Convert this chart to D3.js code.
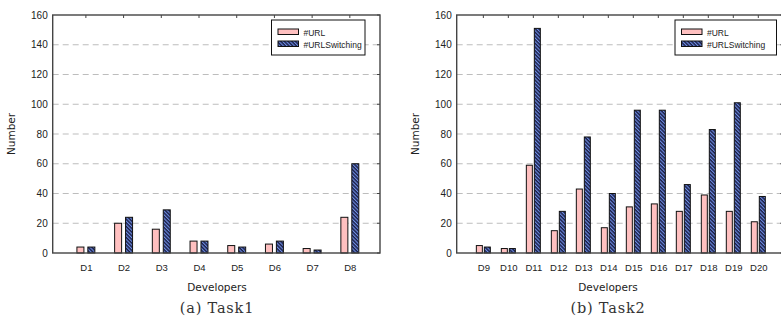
<!DOCTYPE html>
<html>
<head>
<meta charset="utf-8">
<script src="https://cdn.jsdelivr.net/npm/d3@7"></script>
<style>
  body { margin: 0; background: #fff; }
  svg { display: block; }
  text { font-family: "Liberation Sans", Arial, sans-serif; fill: #222; }
  .caption { font-family: "DejaVu Serif", serif; fill: #333; }
  .title { font-family: "DejaVu Sans", sans-serif; }
</style>
</head>
<body>
<svg id="chart" width="781" height="325"></svg>
<script>
// Task1 data
var task1Devs = ["D1", "D2", "D3", "D4", "D5", "D6", "D7", "D8"];
var task1Url = [4, 20, 16, 8, 5, 6, 3, 24];
var task1Switch = [4, 24, 29, 8, 4, 8, 2, 60];

// Task2 data
var task2Devs = ["D9", "D10", "D11", "D12", "D13", "D14", "D15", "D16", "D17", "D18", "D19", "D20"];
var task2Url = [5, 3, 59, 15, 43, 17, 31, 33, 28, 39, 28, 21];
var task2Switch = [4, 3, 151, 28, 78, 40, 96, 96, 46, 83, 101, 38];

var yTicks = [0, 20, 40, 60, 80, 100, 120, 140, 160];
var seriesNames = ["#URL", "#URLSwitching"];

var svg = d3.select("#chart");

var defs = svg.append("defs");
var pat = defs.append("pattern")
    .attr("id", "hatch")
    .attr("patternUnits", "userSpaceOnUse")
    .attr("width", 2.6)
    .attr("height", 2.6)
    .attr("patternTransform", "rotate(-45)");
pat.append("rect").attr("width", 2.6).attr("height", 2.6).attr("fill", "#1b2048");
pat.append("rect").attr("width", 1.1).attr("height", 2.6).attr("fill", "#6f8fe6");

function drawPanel(p) {
    var g = svg.append("g");

    var x = d3.scaleLinear()
        .domain([p.xmin, p.xmax])
        .range([p.left, p.right]);
    var y = d3.scaleLinear()
        .domain([0, 160])
        .range([p.bottom, p.top]);

    // grid
    g.selectAll("line.grid").data(yTicks.filter(function (d) { return d > 0 && d < 160; }))
        .enter().append("line")
        .attr("class", "grid")
        .attr("x1", p.left).attr("x2", p.right)
        .attr("y1", function (d) { return y(d); })
        .attr("y2", function (d) { return y(d); })
        .style("stroke", "#bdbdbd")
        .style("stroke-width", 1)
        .style("stroke-dasharray", "6,4");

    // bars
    var idx = d3.range(p.devs.length);
    g.selectAll("rect.url").data(idx)
        .enter().append("rect")
        .attr("x", function (i) { return x(i - p.off) - p.bw / 2; })
        .attr("y", function (i) { return y(p.url[i]); })
        .attr("width", p.bw)
        .attr("height", function (i) { return y(0) - y(p.url[i]); })
        .style("fill", "#ffc0c0")
        .style("stroke", "#111")
        .style("stroke-width", 1);

    g.selectAll("rect.sw").data(idx)
        .enter().append("rect")
        .attr("x", function (i) { return x(i + p.off) - p.bw / 2; })
        .attr("y", function (i) { return y(p.sw[i]); })
        .attr("width", p.bw)
        .attr("height", function (i) { return y(0) - y(p.sw[i]); })
        .style("fill", "url(#hatch)")
        .style("stroke", "#111")
        .style("stroke-width", 1);

    // frame
    g.append("rect")
        .attr("x", p.left).attr("y", p.top)
        .attr("width", p.right - p.left)
        .attr("height", p.bottom - p.top)
        .style("fill", "none")
        .style("stroke", "#444")
        .style("stroke-width", 1.4);

    // y axis labels
    var yAxis = d3.axisLeft(y).tickValues(yTicks).tickSize(0).tickPadding(5);
    var ya = g.append("g").attr("transform", "translate(" + p.left + ",0)").call(yAxis);
    ya.select(".domain").remove();
    ya.selectAll("text").style("font-size", "10px").style("font-family", "Liberation Sans, Arial, sans-serif").attr("fill", "#222");

    // right mirror ticks
    g.selectAll("line.rt").data(yTicks)
        .enter().append("line")
        .attr("x1", p.right - 3).attr("x2", p.right)
        .attr("y1", function (d) { return y(d); })
        .attr("y2", function (d) { return y(d); })
        .style("stroke", "#444");

    // top mirror ticks
    g.selectAll("line.tt").data(idx)
        .enter().append("line")
        .attr("x1", function (i) { return x(i); })
        .attr("x2", function (i) { return x(i); })
        .attr("y1", p.top).attr("y2", p.top + 3)
        .style("stroke", "#444");

    // x labels
    var xAxis = d3.axisBottom(x).tickValues(idx).tickSize(0).tickPadding(11)
        .tickFormat(function (i) { return p.devs[i]; });
    var xa = g.append("g").attr("transform", "translate(0," + p.bottom + ")").call(xAxis);
    xa.select(".domain").remove();
    xa.selectAll("text").style("font-size", "9.5px").style("font-family", "Liberation Sans, Arial, sans-serif").attr("fill", "#222");

    // axis titles
    g.append("text")
        .attr("class", "title")
        .attr("x", p.capX).attr("y", 290.5)
        .attr("text-anchor", "middle")
        .style("font-size", "10.5px")
        .text("Developers");
    g.append("text")
        .attr("class", "title")
        .attr("transform", "translate(" + p.ylabX + "," + ((p.top + p.bottom) / 2) + ") rotate(-90)")
        .attr("text-anchor", "middle")
        .style("font-size", "10.5px")
        .text("Number");

    g.append("text")
        .attr("class", "caption")
        .attr("x", p.capX).attr("y", 313)
        .attr("text-anchor", "middle")
        .style("font-size", "14.5px")
        .style("letter-spacing", "0.8px")
        .text(p.caption);

    // legend
    var lg = g.append("g").attr("transform", "translate(" + p.legX + ",20)");
    lg.append("rect")
        .attr("width", p.legW).attr("height", 35)
        .style("fill", "#fff")
        .style("stroke", "#111")
        .style("stroke-width", 1);
    var fills = ["#ffc0c0", "url(#hatch)"];
    seriesNames.forEach(function (name, k) {
        lg.append("rect")
            .attr("x", 6.5).attr("y", 9 + k * 12)
            .attr("width", 20.5).attr("height", 5.5)
            .style("fill", fills[k])
            .style("stroke", "#111")
            .style("stroke-width", 1);
        lg.append("text")
            .attr("x", 32).attr("y", 15.5 + k * 12)
            .style("font-size", "8.5px")
            .text(name);
    });
}

drawPanel({
    devs: task1Devs, url: task1Url, sw: task1Switch,
    left: 52.7, right: 380, top: 15, bottom: 253,
    xmin: -0.88, xmax: 7.8, bw: 7, off: 0.145,
    ylabX: 15, capX: 217, legX: 271.5, legW: 93.5,
    caption: "(a) Task1"
});

drawPanel({
    devs: task2Devs, url: task2Url, sw: task2Switch,
    left: 456.7, right: 783.3, top: 15, bottom: 253,
    xmin: -1.066, xmax: 12, bw: 6, off: 0.16,
    ylabX: 419, capX: 608, legX: 675, legW: 101.5,
    caption: "(b) Task2"
});
</script>
</body>
</html>
